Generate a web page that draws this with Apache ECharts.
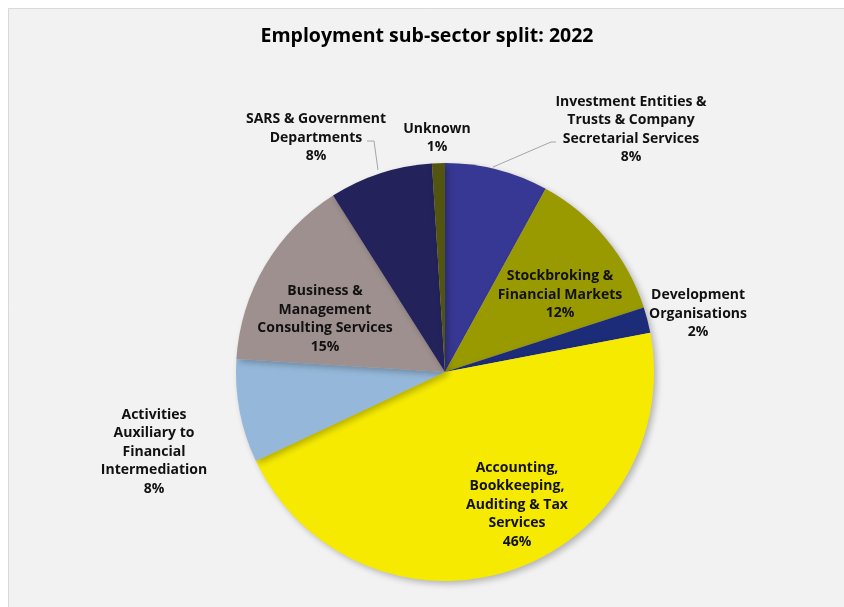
<!DOCTYPE html>
<html>
<head>
<meta charset="utf-8">
<script src="https://cdn.jsdelivr.net/npm/echarts@6/dist/echarts.min.js"></script>
<style>
  html, body { margin: 0; padding: 0; background: #ffffff; }
  #chart { width: 844px; height: 607px; }
</style>
</head>
<body>
<div id="chart"></div>
<script>
// Employment split across financial-services sub-sectors, 2022 (percent)
const categories = [
  'Investment Entities &\nTrusts & Company\nSecretarial Services',
  'Stockbroking &\nFinancial Markets',
  'Development\nOrganisations',
  'Accounting,\nBookkeeping,\nAuditing & Tax\nServices',
  'Activities\nAuxiliary to\nFinancial\nIntermediation',
  'Business &\nManagement\nConsulting Services',
  'SARS & Government\nDepartments',
  'Unknown'
];
const shares = [8, 12, 2, 46, 8, 15, 8, 1];
const sliceColors = ['#373893', '#999900', '#1c2c78', '#f6eb00', '#95b8da', '#9d908f', '#23225a', '#545411'];

// label anchor points (centre of each text block) and leader lines
const labelSpots = [
  { x: 631, y: 129.5, line: [[493, 167], [551, 142], [556, 142]] },
  { x: 560, y: 295 },
  { x: 698, y: 314 },
  { x: 517, y: 505 },
  { x: 154, y: 452 },
  { x: 325, y: 319 },
  { x: 316, y: 138, line: [[378, 170], [374, 141], [367, 141]] },
  { x: 437, y: 138 }
];

const FONT = '"Open Sans", Lato, sans-serif';

const chart = echarts.init(document.getElementById('chart'));
chart.setOption({
  backgroundColor: '#ffffff',
  animation: false,
  graphic: [{
    type: 'rect',
    z: -10,
    shape: { x: 8.5, y: 8.5, width: 900, height: 700 },
    style: { fill: '#f2f2f2', stroke: '#d9d9d9', lineWidth: 1 }
  }],
  title: {
    text: 'Employment sub-sector split: 2022',
    left: 422,
    top: 21,
    textAlign: 'center',
    textStyle: { fontFamily: FONT, fontWeight: 'bold', fontSize: 19.5, color: '#000000' }
  },
  series: [{
    type: 'pie',
    center: [445, 372],
    radius: 209,
    startAngle: 90,
    clockwise: true,
    avoidLabelOverlap: false,
    data: categories.map((name, i) => ({
      name: name,
      value: shares[i],
      itemStyle: { color: sliceColors[i] },
      labelLine: { show: !!labelSpots[i].line }
    })),
    itemStyle: {
      shadowBlur: 6,
      shadowOffsetX: 3,
      shadowOffsetY: 3,
      shadowColor: 'rgba(0,0,0,0.25)'
    },
    label: {
      show: true,
      position: 'outside',
      formatter: '{b}\n{c}%',
      fontFamily: FONT,
      fontWeight: 'bold',
      fontSize: 14,
      lineHeight: 18.5,
      color: '#111111',
      align: 'center'
    },
    labelLine: {
      show: true,
      lineStyle: { color: '#a6a6a6', width: 1 }
    },
    labelLayout: function (params) {
      const spot = labelSpots[params.dataIndex];
      const out = {
        x: spot.x,
        y: spot.y,
        align: 'center',
        verticalAlign: 'middle'
      };
      if (spot.line) out.labelLinePoints = spot.line;
      return out;
    }
  }]
});
</script>
</body>
</html>
